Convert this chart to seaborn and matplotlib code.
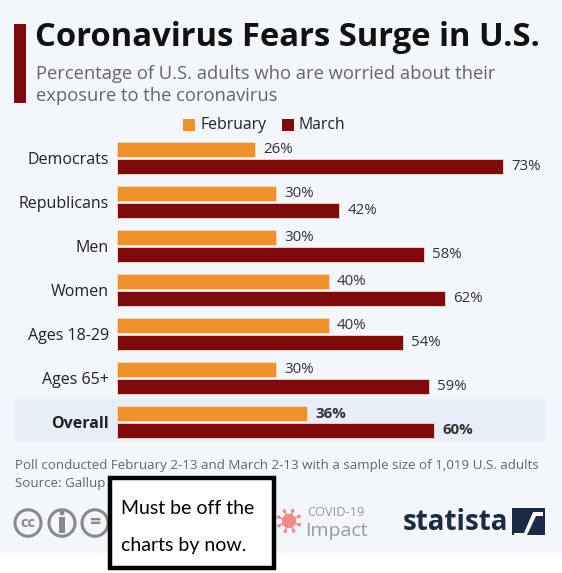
import math
import matplotlib
matplotlib.use("Agg")
import matplotlib.pyplot as plt
import matplotlib.patches as mpatches
import seaborn as sns
import pandas as pd

categories = ["Democrats", "Republicans", "Men", "Women", "Ages 18-29", "Ages 65+", "Overall"]
february = [26, 30, 30, 40, 40, 30, 36]
march = [73, 42, 58, 62, 54, 59, 60]
months = ["February", "March"]

title = "Coronavirus Fears Surge in U.S."
subtitle1 = "Percentage of U.S. adults who are worried about their"
subtitle2 = "exposure to the coronavirus"
footnote = "Poll conducted February 2-13 and March 2-13 with a sample size of 1,019 U.S. adults"
source = "Source: Gallup"
note_lines = ["Must be off the", "charts by now."]

ORANGE = "#F0922B"
DARKRED = "#7E0A0C"
BG = "#F3F6FA"
HILITE = "#E8EEF7"
NAVY = "#1B2B45"

W, H = 562, 573
sns.set_theme(style="white")
plt.rcParams["font.family"] = ["Open Sans", "DejaVu Sans"]

fig = plt.figure(figsize=(W / 100, H / 100), dpi=100)
fig.patch.set_facecolor(BG)


def fx(x):
    return x / W


def fy(y):
    return 1 - y / H


def frect(x0, y0, x1, y1, **kw):
    r = mpatches.Rectangle((fx(x0), fy(y1)), fx(x1) - fx(x0), fy(y0) - fy(y1),
                           transform=fig.transFigure, **kw)
    fig.patches.append(r)
    return r


# white strip at the bottom and highlight row for Overall
frect(0, 553, W, H, facecolor="white", edgecolor="none", zorder=0)
frect(15, 399, 545, 442, facecolor=HILITE, edgecolor="none", zorder=0)

# title block
frect(14, 24, 26, 103, facecolor=DARKRED, edgecolor="none")
fig.text(fx(35), fy(38), title, fontsize=23.6, fontweight="bold", color="#111111",
         va="center", ha="left")
fig.text(fx(36), fy(74), subtitle1, fontsize=13.2, color="#666666", va="center", ha="left")
fig.text(fx(36), fy(96), subtitle2, fontsize=13.2, color="#666666", va="center", ha="left")

# legend
frect(183, 119, 195, 131, facecolor=ORANGE, edgecolor="none")
fig.text(fx(200), fy(125), months[0], fontsize=11.3, color="#222222", va="center")
frect(282, 119, 294, 131, facecolor=DARKRED, edgecolor="none")
fig.text(fx(299), fy(125), months[1], fontsize=11.3, color="#222222", va="center")

# axes: 0% at x=117, 5.29 px per percent; rows centered at 158 + 44*i
ax_left, ax_right = 117, 545
ax_top, ax_bot = 136, 444
ax = fig.add_axes([fx(ax_left), fy(ax_bot), fx(ax_right) - fx(ax_left), fy(ax_top) - fy(ax_bot)])
ax.set_facecolor("none")
ax.set_zorder(3)

df = pd.DataFrame({
    "group": categories * 2,
    "month": [months[0]] * len(categories) + [months[1]] * len(categories),
    "value": february + march,
})
sns.barplot(data=df, y="group", x="value", hue="month", orient="h",
            palette=[ORANGE, DARKRED], saturation=1, width=0.76, gap=0.08, ax=ax,
            legend=False, edgecolor="#F6D9C8", linewidth=0.6, order=categories,
            hue_order=months)

ax.set_xlim(0, (ax_right - ax_left) / 5.29)
ax.set_ylim(6.5, -0.5)
for s in ax.spines.values():
    s.set_visible(False)
ax.set_xticks([])
ax.set_xlabel("")
ax.set_ylabel("")
ax.tick_params(axis="y", length=0, pad=6, labelsize=11.5, labelcolor="#222222")
for lbl in ax.get_yticklabels():
    if lbl.get_text() == "Overall":
        lbl.set_fontweight("bold")

for cont in ax.containers:
    texts = ax.bar_label(cont, fmt="%d%%", padding=6, fontsize=10.8, color="#333333")
    texts[-1].set_fontweight("bold")

# footer
fig.text(fx(15), fy(466), footnote, fontsize=9.6, color="#666666", va="center")
fig.text(fx(15), fy(484), source, fontsize=9.6, color="#666666", va="center")

# cc icons
for cx, sym in [(28, "cc"), (62, ""), (95, "=")]:
    fig.patches.append(mpatches.Circle((fx(cx), fy(523)), 13 / W, transform=fig.transFigure,
                                       facecolor="none", edgecolor="#8A8A8A", linewidth=2.2))
    if sym:
        fig.text(fx(cx), fy(523), sym, fontsize=10.5 if sym == "cc" else 14, fontweight="bold",
                 color="#8A8A8A", ha="center", va="center")
fig.patches.append(mpatches.Circle((fx(62), fy(513)), 2.4 / W, transform=fig.transFigure,
                                   facecolor="#8A8A8A", edgecolor="none"))
frect(59, 517, 65, 533, facecolor="#8A8A8A", edgecolor="none")

# covid icon
vx, vy = 289, 521
for ang in range(0, 360, 45):
    a = math.radians(ang + 20)
    x2, y2 = vx + 11 * math.cos(a), vy + 11 * math.sin(a)
    fig.lines.append(plt.Line2D([fx(vx), fx(x2)], [fy(vy), fy(y2)], transform=fig.transFigure,
                                color="#F08A8A", linewidth=1.2))
    fig.patches.append(mpatches.Circle((fx(x2), fy(y2)), 1.8 / W, transform=fig.transFigure,
                                       facecolor="#F08A8A", edgecolor="none"))
fig.patches.append(mpatches.Circle((fx(vx), fy(vy)), 7 / W, transform=fig.transFigure,
                                   facecolor="#F08A8A", edgecolor="none"))
fig.text(fx(307), fy(513), "COVID-19", fontsize=9.3, color="#9A9A9A", va="center")
fig.text(fx(305), fy(531), "Impact", fontsize=14, color="#9A9A9A", va="center")

# statista logo
fig.text(fx(403), fy(522), "statista", fontsize=20, fontweight="bold", color=NAVY, va="center")
frect(512, 508, 545, 535, facecolor=NAVY, edgecolor="none")
fig.patches.append(mpatches.Polygon([(fx(514), fy(533)), (fx(524), fy(533)), (fx(533), fy(512)),
                                     (fx(543), fy(512)), (fx(543), fy(516)), (fx(536), fy(516)),
                                     (fx(527), fy(535)), (fx(514), fy(535))],
                                    closed=True, transform=fig.transFigure,
                                    facecolor="white", edgecolor="none"))

# note box
frect(110, 478, 274, 568, facecolor="white", edgecolor="black", linewidth=3.2, zorder=5)
fig.text(fx(121), fy(508), note_lines[0], fontsize=14, color="black", va="center",
         family=["Lato", "DejaVu Sans"], zorder=6)
fig.text(fx(121), fy(545), note_lines[1], fontsize=14, color="black", va="center",
         family=["Lato", "DejaVu Sans"], zorder=6)

fig.savefig("out.png", dpi=100, facecolor=fig.get_facecolor())
